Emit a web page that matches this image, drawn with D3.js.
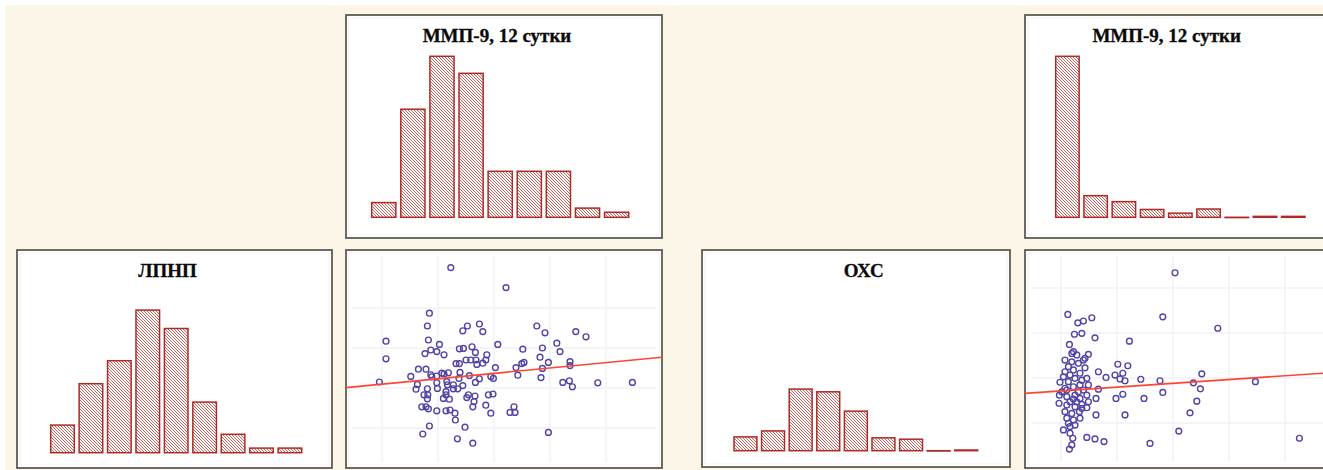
<!DOCTYPE html>
<html>
<head>
<meta charset="utf-8">
<script src="https://cdn.jsdelivr.net/npm/d3@7"></script>
<style>
  body { margin: 0; background: #fff; }
  svg { display: block; }
</style>
</head>
<body>
<div id="chart"></div>
<script>
// histogram bins (no labels are printed in the picture)
const bins = ["1", "2", "3", "4", "5", "6", "7", "8", "9"];

// frequencies
const mmpFreqLeft = [3.2, 23.5, 35, 31.3, 10, 10, 10, 2, 1.1];
const ldlFreq = [6, 15, 20, 31, 27, 11, 4, 1, 1];
const mmpFreqRight = [35, 4.7, 3.4, 1.7, 0.9, 1.8, 0, 0.2, 0.2];
const cholFreq = [3, 4.3, 13.4, 12.8, 8.6, 2.8, 2.5, 0, 0.15];

const titleMmp = "ММП-9, 12 сутки";
const titleLdl = "ЛПНП";
const titleChol = "ОХС";

// scatter: [ММП-9, ЛПНП]
const ldlVsMmp = [
  [52.4, 5.01], [80, 4.51], [41.7, 3.87], [40.7, 3.55], [20, 3.17], [20, 2.73], [16.7, 2.15],
  [41.2, 3.2], [46.7, 3.09], [39.5, 2.86], [42.4, 2.95], [45.4, 2.91], [49, 2.83], [60.7, 3.55],
  [58.4, 3.43], [66.7, 3.6], [68.4, 3.41], [95.4, 3.55], [99.5, 3.38], [114.9, 3.41], [120, 3.28],
  [75.9, 3.09], [88.4, 2.97], [98.2, 3.0], [105.4, 3.12], [107, 2.91], [97, 2.77], [101.2, 2.64],
  [112, 2.66], [112, 2.56], [98.2, 2.49], [97.5, 2.26], [108.4, 2.14], [111.7, 2.18], [113.2, 2.03],
  [125.9, 2.13], [143.2, 2.14], [56.7, 2.98], [58.7, 2.99], [63, 3.03], [64.7, 2.89], [60, 2.7],
  [62.4, 2.7], [65, 2.7], [65.4, 2.59], [68.4, 2.62], [70.4, 2.83], [69.9, 2.7], [55, 2.61],
  [56.7, 2.61], [74.7, 2.51], [85, 2.51], [87.9, 2.61], [89, 2.64], [85.9, 2.32], [36.2, 2.47],
  [40, 2.47], [32.4, 2.29], [42.4, 2.33], [45.4, 2.3], [49, 2.35], [51.2, 2.38], [57, 2.39],
  [61.7, 2.31], [72.4, 2.29], [73.7, 2.24], [66.7, 2.23], [64.7, 2.14], [35.7, 2.09], [35, 1.97],
  [40.7, 1.98], [45.4, 2.13], [45.7, 1.99], [50.4, 2.16], [50.7, 2.08], [53.7, 2.08], [56.5, 2.24],
  [58.4, 2.06], [55.9, 1.98], [50, 1.91], [39, 1.83], [40.9, 1.83], [40.7, 1.73], [48.7, 1.74],
  [51.7, 1.72], [60.4, 1.76], [61.2, 1.83], [64.5, 1.8], [64, 1.66], [71.2, 1.83], [73.5, 1.85],
  [69.9, 1.57], [63.4, 1.53], [72.4, 1.37], [37.9, 1.53], [40, 1.53], [41.2, 1.48], [45.4, 1.43],
  [50, 1.43], [52, 1.45], [54.5, 1.37], [54.7, 1.2], [41.7, 1.05], [38.4, 0.85], [59.5, 1.02],
  [55.7, 0.73], [63.4, 0.62], [82, 1.39], [84.5, 1.39], [84, 1.53], [101.2, 0.89], [47.9, 2.37],
  [42.9, 2.28], [50, 1.83], [53.7, 1.98]
];

// scatter: [ММП-9, ОХС]
const cholVsMmp = [
  [75, 6.51], [21.4, 5.12], [26.4, 4.84], [29.2, 4.9], [33.4, 5.01], [24.7, 4.46], [28.4, 4.49],
  [35, 4.34], [68.9, 5.04], [96.4, 4.66], [52.2, 4.23], [22.2, 4.12], [24.2, 3.88], [31.7, 3.79],
  [30, 3.66], [20, 3.6], [23.4, 3.54], [26.7, 3.49], [30, 3.34], [20, 3.21], [24.2, 3.27],
  [27.5, 3.16], [46.4, 3.46], [51.4, 3.41], [36.7, 3.21], [40.5, 3.02], [45, 3.1], [48.9, 3.16],
  [47.5, 2.97], [50, 2.91], [57.9, 2.96], [67.5, 2.91], [84.2, 2.84], [88.4, 3.14], [115.2, 2.88],
  [17.5, 2.86], [21.7, 2.88], [25, 2.99], [28.4, 2.93], [31.7, 2.77], [20, 2.66], [24.2, 2.71],
  [26.7, 2.54], [29.2, 2.6], [36.7, 2.63], [17.2, 2.43], [20.9, 2.38], [24.2, 2.3], [27.5, 2.32],
  [30.9, 2.43], [35.5, 2.32], [45.5, 2.32], [48.9, 2.46], [59.5, 2.32], [68.9, 2.52], [87.7, 2.64],
  [85.9, 2.23], [17, 2.16], [20.9, 2.1], [25, 2.04], [28.4, 2.12], [30.9, 2.01], [20, 1.88],
  [23.4, 1.82], [27.2, 1.88], [35.5, 1.77], [50, 1.77], [82.5, 1.84], [20.9, 1.66], [24.2, 1.6],
  [27.5, 1.66], [19.2, 1.27], [22.5, 1.38], [25, 1.43], [23.9, 0.99], [23.4, 0.77], [22.2, 0.63],
  [30.9, 1.02], [35, 0.97], [39.5, 0.88], [62.5, 0.82], [76.9, 1.23], [137.2, 0.99], [22.5, 1.16],
  [20.9, 2.6], [22.5, 3.1], [21.7, 3.38], [25.9, 3.77], [23.4, 3.82], [29.2, 3.6], [18.4, 2.54],
  [25.9, 2.21], [21.7, 1.49], [19.2, 3.04], [30.9, 2.99], [27.5, 2.77], [25, 2.43], [28.4, 1.99],
  [22.5, 2.21], [31.7, 2.21]
];

// regression lines: [intercept, slope]
const ldlFit = [2.01, 0.0048];
const cholFit = [2.49, 0.0045];

// faint grid values inside the scatter panels
const gridMmp = [18, 46, 74, 102, 130];
const gridLdl = [1, 2, 3, 4];
const gridChol = [1.5, 3, 4.5, 6];

const width = 1323, height = 470;

const svg = d3.select("#chart").append("svg")
  .attr("width", width)
  .attr("height", height);

svg.append("rect")
  .attr("x", 5).attr("y", 5)
  .attr("width", width).attr("height", height)
  .attr("fill", "#fbf6e8");

const defs = svg.append("defs");
const pat = defs.append("pattern")
  .attr("id", "hatch")
  .attr("patternUnits", "userSpaceOnUse")
  .attr("width", 3).attr("height", 3);
pat.append("rect").attr("width", 3).attr("height", 3).attr("fill", "#fff");
pat.append("path")
  .attr("d", "M-1,-1 L4,4 M-1,2 L1,4 M2,-1 L4,1")
  .attr("stroke", "#c4504c")
  .attr("stroke-width", 0.9);

function frame(p) {
  const g = svg.append("g").attr("transform", `translate(${p.x},${p.y})`);
  g.append("rect")
    .attr("width", p.w).attr("height", p.h)
    .attr("fill", "#fff")
    .attr("stroke", "#5e5a55")
    .attr("stroke-width", 1.8);
  g.append("rect")
    .attr("x", 3).attr("y", 3)
    .attr("width", p.w - 6).attr("height", p.h - 6)
    .attr("fill", "none")
    .attr("stroke", "#f1f1f3")
    .attr("stroke-width", 1);
  return g;
}

function histogram(p, values, title) {
  const g = frame(p);
  const x = d3.scaleBand()
    .domain(bins)
    .range(p.bars)
    .paddingInner(0.17);
  const y = d3.scaleLinear()
    .domain([0, 40])
    .range([p.base, p.base - 184]);

  g.selectAll(".bar")
    .data(values)
    .enter()
    .append("rect")
    .attr("class", "bar")
    .attr("x", (d, i) => x(bins[i]))
    .attr("width", x.bandwidth())
    .attr("y", d => y(d))
    .attr("height", d => Math.max(y(0) - y(d), 0.3))
    .attr("fill", "url(#hatch)")
    .attr("stroke", "#ad2a27")
    .attr("stroke-width", 1.5);

  g.append("text")
    .attr("x", p.titleX)
    .attr("y", 27)
    .attr("text-anchor", "middle")
    .attr("font-family", "Liberation Serif, Times New Roman, serif")
    .attr("font-weight", "bold")
    .attr("font-size", 19)
    .attr("fill", "#0a0a0a")
    .attr("stroke", "#0a0a0a")
    .attr("stroke-width", 0.3)
    .text(title);
}

function scatter(p, points, fit, yMax, gridY, id) {
  const g = frame(p);
  const x = d3.scaleLinear().domain([0, 158]).range([0, p.w]);
  const y = d3.scaleLinear().domain([0, yMax]).range([p.h, 0]);

  defs.append("clipPath").attr("id", id)
    .append("rect").attr("width", p.w).attr("height", p.h);

  const inner = g.append("g").attr("clip-path", `url(#${id})`);

  inner.selectAll(".gx")
    .data(gridMmp)
    .enter()
    .append("line")
    .attr("x1", d => x(d)).attr("x2", d => x(d))
    .attr("y1", 6).attr("y2", p.h - 6)
    .attr("stroke", "#f1f2f6")
    .attr("stroke-width", 1.5);

  inner.selectAll(".gy")
    .data(gridY)
    .enter()
    .append("line")
    .attr("x1", 6).attr("x2", p.w - 6)
    .attr("y1", d => y(d)).attr("y2", d => y(d))
    .attr("stroke", "#f1f2f6")
    .attr("stroke-width", 1.5);

  inner.selectAll("circle")
    .data(points)
    .enter()
    .append("circle")
    .attr("cx", d => x(d[0]))
    .attr("cy", d => y(d[1]))
    .attr("r", 2.9)
    .attr("fill", "none")
    .attr("stroke", "#4f45a6")
    .attr("stroke-width", 1.4);

  const [a, b] = fit;
  inner.append("line")
    .attr("x1", x(0)).attr("y1", y(a))
    .attr("x2", x(158)).attr("y2", y(a + b * 158))
    .attr("stroke", "#ff4434")
    .attr("stroke-width", 1.6);
}

histogram({ x: 346, y: 15, w: 316, h: 223, bars: [25.7, 282.7], base: 202.3, titleX: 151 }, mmpFreqLeft, titleMmp);
histogram({ x: 17, y: 250, w: 315, h: 218, bars: [33.7, 284.7], base: 202.7, titleX: 150.5 }, ldlFreq, titleLdl);
scatter({ x: 346, y: 250, w: 316, h: 218 }, ldlVsMmp, ldlFit, 5.45, gridLdl, "clipL");

histogram({ x: 1025, y: 15, w: 316, h: 223, bars: [30.7, 280], base: 202.3, titleX: 141.7 }, mmpFreqRight, titleMmp);
histogram({ x: 702, y: 250, w: 308, h: 217, bars: [32, 275.7], base: 200.7, titleX: 161.7 }, cholFreq, titleChol);
scatter({ x: 1025, y: 250, w: 316, h: 218 }, cholVsMmp, cholFit, 7.27, gridChol, "clipR");
</script>
</body>
</html>
